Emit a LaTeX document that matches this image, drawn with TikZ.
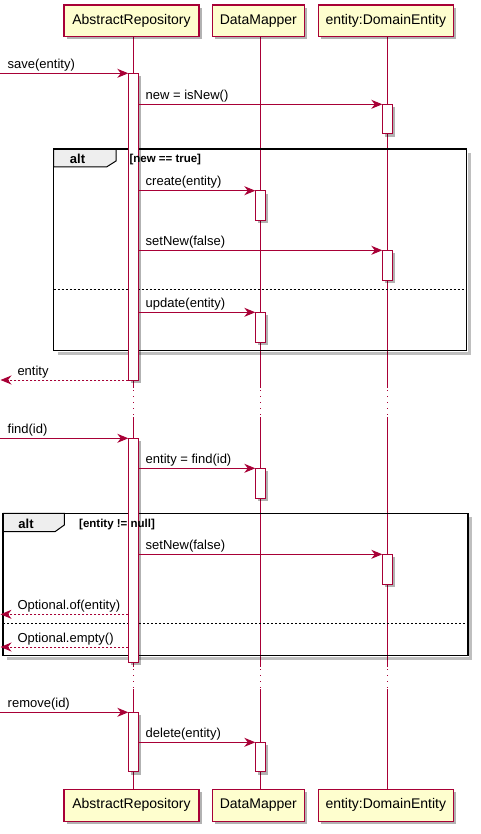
\documentclass[tikz,border=0pt]{standalone}
\usepackage{fontspec}
\setmainfont{Liberation Sans}
\usetikzlibrary{arrows.meta,shadows}
\definecolor{pred}{HTML}{A80036}
\definecolor{pfill}{HTML}{FEFECE}
\definecolor{tabfill}{HTML}{EEEEEE}
\tikzset{
  shad/.style={drop shadow={shadow xshift=3pt,shadow yshift=-3pt,opacity=0.3,fill=black}},
  part/.style={draw=pred, fill=pfill, line width=1.5pt, inner sep=0pt, shad,
    font=\fontsize{14}{16}\selectfont, text=black},
  life/.style={draw=pred, line width=1pt},
  lifedot/.style={draw=pred, line width=1pt, dash pattern=on 1pt off 5pt},
  actbox/.style={draw=pred, fill=white, line width=1pt, shad},
  msg/.style={draw=pred, line width=1pt, -{Stealth[length=11pt,width=9pt,inset=3.5pt]}},
  ret/.style={msg, dash pattern=on 2pt off 2pt},
  lbl/.style={font=\fontsize{13}{15}\selectfont, anchor=base west, inner sep=0pt},
  frame/.style={draw=black, line width=1.5pt},
  fshadow/.style={draw=black, opacity=0.25, line width=3pt},
  tab/.style={draw=black, fill=tabfill, line width=1pt},
  altlbl/.style={font=\bfseries\fontsize{13}{15}\selectfont, anchor=base, inner sep=0pt},
  guard/.style={font=\bfseries\fontsize{11.5}{13}\selectfont, anchor=base west, inner sep=0pt},
  divider/.style={draw=black, line width=1pt, dash pattern=on 2pt off 2pt},
}
\begin{document}
\begin{tikzpicture}[x=1pt,y=-1pt]
\useasboundingbox (0,0) rectangle (480,834);

% lifelines
\foreach \lx in {133.3,260.3,387.3}{
  \draw[life] (\lx,36.5) -- (\lx,388);
  \draw[lifedot] (\lx,390) -- (\lx,416);
  \draw[life] (\lx,417) -- (\lx,667);
  \draw[lifedot] (\lx,669) -- (\lx,688);
  \draw[life] (\lx,689) -- (\lx,789);
}

% participants
\node[part, minimum width=135pt, minimum height=31.5pt] (ar) at (131.5,20.75) {AbstractRepository};
\node[part, minimum width=92pt, minimum height=31.5pt] (dm) at (258.3,20.75) {DataMapper};
\node[part, minimum width=135pt, minimum height=31.5pt] (en) at (385.8,20.75) {entity:DomainEntity};
\node[part, minimum width=135pt, minimum height=32pt] (arb) at (131.5,805.25) {AbstractRepository};
\node[part, minimum width=92pt, minimum height=32pt] (dmb) at (258.3,805.25) {DataMapper};
\node[part, minimum width=135pt, minimum height=32pt] (enb) at (385.8,805.25) {entity:DomainEntity};

% frame 1
\draw[fshadow] (469.2,153) -- (469.2,353.2) -- (57.5,353.2);
\draw[tab] (53.5,149) -- (116,149) -- (116,161) -- (106.5,167) -- (53.5,167) -- cycle;
\draw[frame] (53.5,149) rectangle (466.5,350.5);
\draw[divider] (53.5,289.3) -- (466.5,289.3);

% frame 2
\draw[fshadow] (470.7,517.3) -- (470.7,658.4) -- (7,658.4);
\draw[tab] (3,513.3) -- (64.3,513.3) -- (64.3,525) -- (55,531.7) -- (3,531.7) -- cycle;
\draw[frame] (3,513.3) rectangle (468,655.7);
\draw[divider] (3,623.3) -- (468,623.3);

% activations
\draw[actbox] (128.3,73.3) rectangle (138.3,380);
\draw[actbox] (128.3,438.3) rectangle (138.3,662.3);
\draw[actbox] (128.3,712.3) rectangle (138.3,771.7);
\draw[actbox] (382.3,104.3) rectangle (392.3,134);
\draw[actbox] (382.3,250.3) rectangle (392.3,280.3);
\draw[actbox] (382.3,554.3) rectangle (392.3,584.3);
\draw[actbox] (255.3,190.7) rectangle (265.3,220.3);
\draw[actbox] (255.3,312.3) rectangle (265.3,342.3);
\draw[actbox] (255.3,468.3) rectangle (265.3,498.3);
\draw[actbox] (255.3,742.3) rectangle (265.3,771.7);

% frame labels (over activations)
\node[altlbl] (alt1) at (77.5,164) {alt};
\node[guard] (g1) at (129.3,163) {[new == true]};
\node[altlbl] (alt2) at (26,528.3) {alt};
\node[guard] (g2) at (79,527.7) {[entity != null]};

% message endpoints
\coordinate (s1) at (0,73.3);      \coordinate (e1) at (128.3,73.3);
\coordinate (s2) at (138.3,104.3); \coordinate (e2) at (382.3,104.3);
\coordinate (s3) at (138.3,190.7); \coordinate (e3) at (255.3,190.7);
\coordinate (s4) at (138.3,250.3); \coordinate (e4) at (382.3,250.3);
\coordinate (s5) at (138.3,312.3); \coordinate (e5) at (255.3,312.3);
\coordinate (s6) at (128.3,380);   \coordinate (e6) at (0.5,380);
\coordinate (s7) at (0,438.3);     \coordinate (e7) at (128.3,438.3);
\coordinate (s8) at (138.3,468.3); \coordinate (e8) at (255.3,468.3);
\coordinate (s9) at (138.3,554.3); \coordinate (e9) at (382.3,554.3);
\coordinate (s10) at (128.3,614.3); \coordinate (e10) at (0.5,614.3);
\coordinate (s11) at (128.3,647);   \coordinate (e11) at (0.5,647);
\coordinate (s12) at (0,712.3);     \coordinate (e12) at (128.3,712.3);
\coordinate (s13) at (138.3,742.3); \coordinate (e13) at (255.3,742.3);

\draw[msg] (s1) -- (e1);
\draw[msg] (s2) -- (e2);
\draw[msg] (s3) -- (e3);
\draw[msg] (s4) -- (e4);
\draw[msg] (s5) -- (e5);
\draw[ret] (s6) -- (e6);
\draw[msg] (s7) -- (e7);
\draw[msg] (s8) -- (e8);
\draw[msg] (s9) -- (e9);
\draw[ret] (s10) -- (e10);
\draw[ret] (s11) -- (e11);
\draw[msg] (s12) -- (e12);
\draw[msg] (s13) -- (e13);

% labels
\node[lbl] (l1) at (7.5,68.5) {save(entity)};
\node[lbl] (l2) at (145.5,99.5) {new = isNew()};
\node[lbl] (l3) at (145.5,185.9) {create(entity)};
\node[lbl] (l4) at (145.5,245.5) {setNew(false)};
\node[lbl] (l5) at (145.5,307.5) {update(entity)};
\node[lbl] (l6) at (17.3,375.2) {entity};
\node[lbl] (l7) at (7.5,433.5) {find(id)};
\node[lbl] (l8) at (145.5,463.5) {entity = find(id)};
\node[lbl] (l9) at (145.5,549.5) {setNew(false)};
\node[lbl] (l10) at (17.3,609.5) {Optional.of(entity)};
\node[lbl] (l11) at (17.3,642.2) {Optional.empty()};
\node[lbl] (l12) at (7.5,707.5) {remove(id)};
\node[lbl] (l13) at (145.5,737.5) {delete(entity)};
\end{tikzpicture}
\end{document}
